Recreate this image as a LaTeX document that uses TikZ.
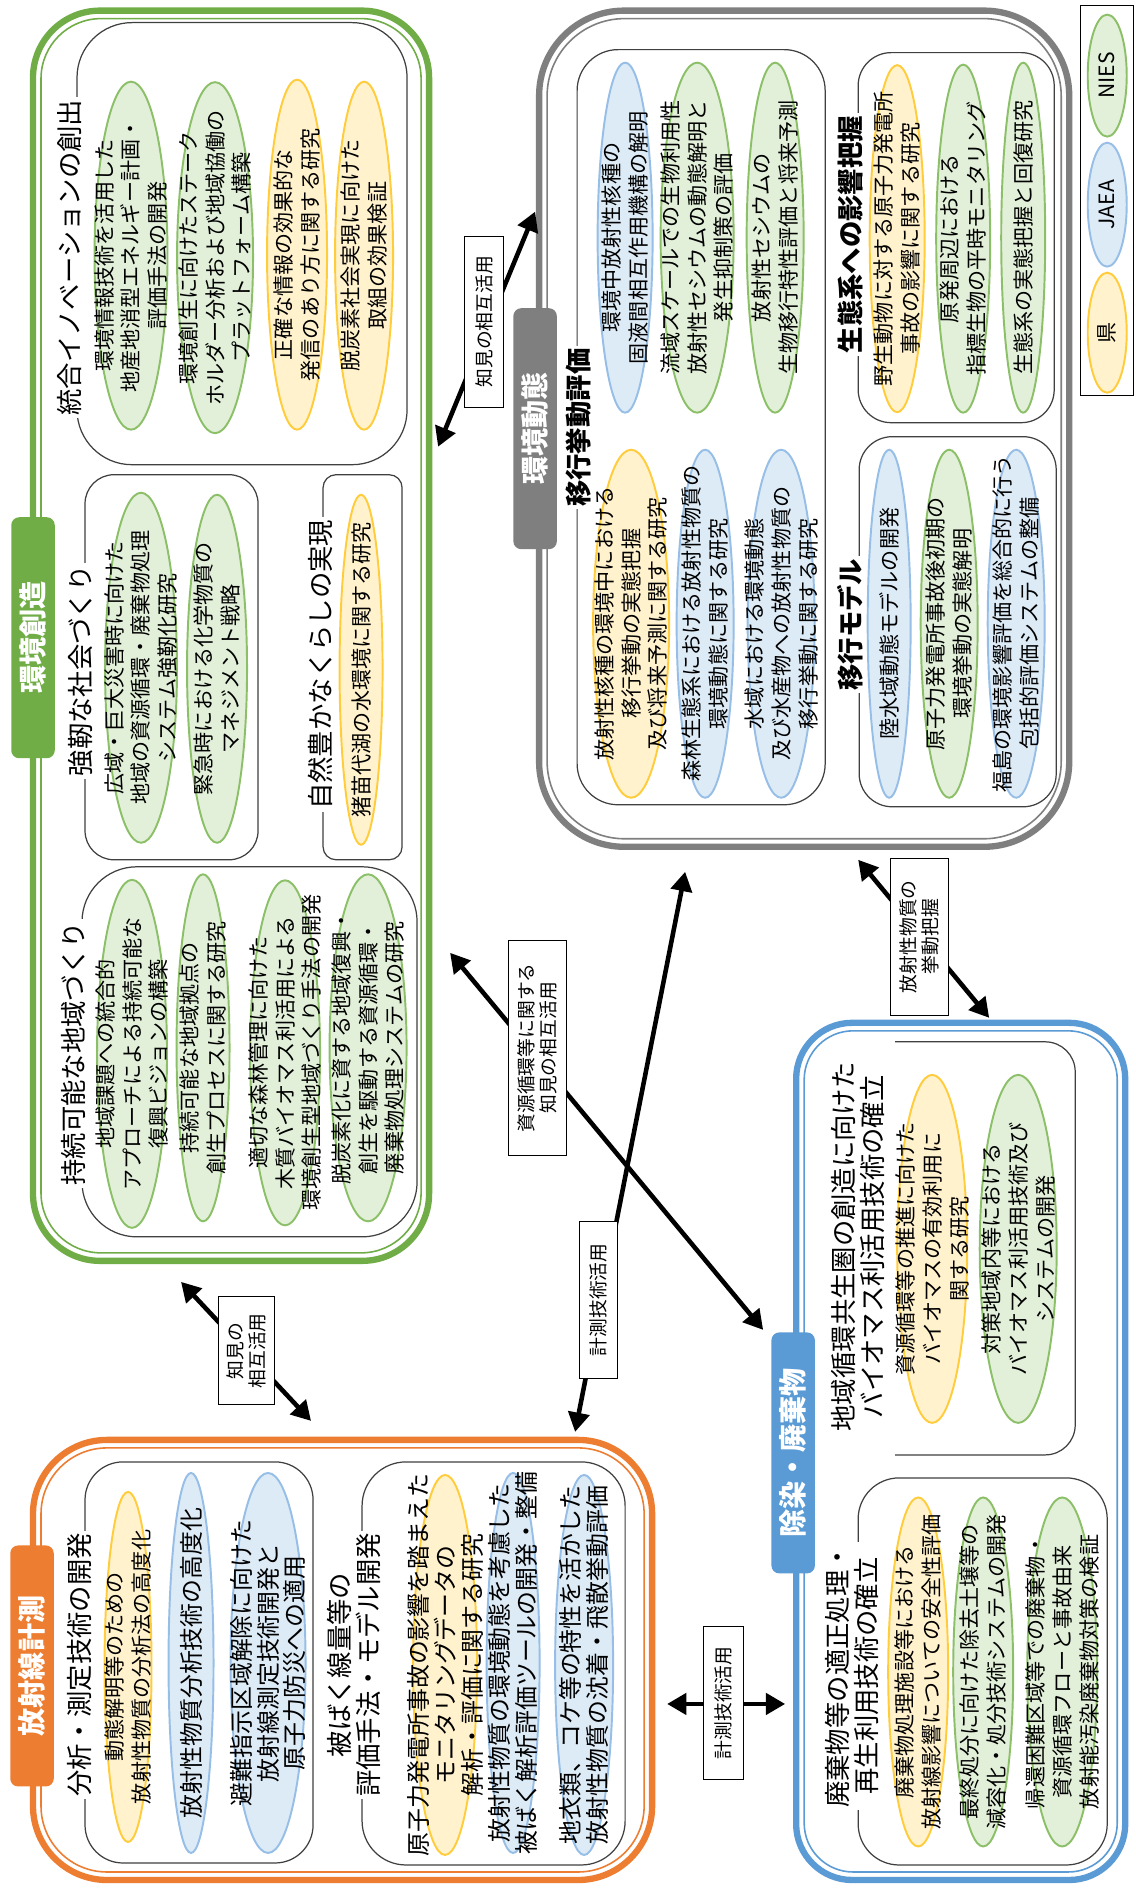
\documentclass[tikz,border=0pt]{standalone}
\usepackage{fontspec}
\setmainfont{Noto Sans CJK JP}
\usepackage{tikz}
\usetikzlibrary{shapes,arrows.meta,positioning,calc}
\definecolor{envgreen}{RGB}{112,173,71}
\definecolor{envgray}{RGB}{127,127,127}
\definecolor{decblue}{RGB}{91,155,213}
\definecolor{radorange}{RGB}{237,125,49}
\definecolor{niesfill}{RGB}{226,240,217}
\definecolor{niesline}{RGB}{140,192,104}
\definecolor{jaeafill}{RGB}{221,235,247}
\definecolor{jaealine}{RGB}{150,190,230}
\definecolor{preffill}{RGB}{255,242,204}
\definecolor{prefline}{RGB}{255,204,60}

\begin{document}
\begin{tikzpicture}[
    font=\fontsize{12}{15.3}\selectfont,
    outerline/.style={line width=3.6pt},
    innerline/.style={line width=0.9pt},
    subbox/.style={draw=black!75, line width=0.7pt},
    subtitle/.style={fill=white, inner sep=1.5pt, align=center, font=\fontsize{15}{16.5}\selectfont},
    subtitlebf/.style={subtitle, font=\fontsize{15}{16.5}\selectfont\bfseries},
    tag/.style={rectangle, rounded corners=4.5pt, text=white, minimum width=4.82cm, minimum height=0.87cm, font=\fontsize{16}{18}\selectfont\bfseries},
    ell/.style={ellipse, line width=1.1pt, inner sep=0pt},
    nies/.style={ell, draw=niesline, fill=niesfill},
    jaea/.style={ell, draw=jaealine, fill=jaeafill},
    pref/.style={ell, draw=prefline, fill=preffill},
    etxt/.style={align=center, inner sep=0pt},
    etxtbig/.style={etxt, font=\fontsize{13.6}{15.3}\selectfont},
    linkbox/.style={draw, fill=white, line width=0.6pt, align=center, inner sep=1pt, font=\fontsize{10.7}{12.5}\selectfont},
    link/.style={{Triangle[length=11pt,width=12pt]}-{Triangle[length=11pt,width=12pt]}, line width=2.6pt}
]
\fill[white] (0,0) rectangle (22.72,37.8);
\useasboundingbox (0,0) rectangle (22.72,37.8);

\begin{scope}[rotate=90, transform shape, x=0.02cm, y=0.02cm]

% 1. Environment creation
\draw[outerline, draw=envgreen, rounded corners=1.34cm] (629,-33) rectangle (1879,-429);
\draw[innerline, draw=envgreen, rounded corners=1.2cm] (637,-41) rectangle (1871,-421);

\draw[subbox, rounded corners=1.1cm] (1425,-77) rectangle (1867,-407);
\node[subtitle] (innoT) at (1632,-70) {統合イノベーションの創出};
\node[nies, minimum width=6.96cm, minimum height=1.46cm] (inno1) at (1634,-131) {};
\node[etxt] (inno1t) at (inno1) {環境情報技術を活用した\\地産地消型エネルギー計画・\\評価手法の開発};
\node[nies, minimum width=7.02cm, minimum height=1.52cm] (inno2) at (1632,-215) {};
\node[etxt] (inno2t) at (inno2) {環境創生に向けたステーク\\ホルダー分析および地域協働の\\プラットフォーム構築};
\node[pref, minimum width=7cm, minimum height=1.2cm] (inno3) at (1635,-297) {};
\node[etxt] (inno3t) at (inno3) {正確な情報の効果的な\\発信のあり方に関する研究};
\node[pref, minimum width=6.96cm, minimum height=1.16cm] (inno4) at (1634,-364) {};
\node[etxt] (inno4t) at (inno4) {脱炭素社会実現に向けた\\取組の効果検証};

\draw[subbox, rounded corners=0.58cm] (1030,-85) rectangle (1415,-258);
\node[subtitle] (resT) at (1219,-81) {強靭な社会づくり};
\node[nies, minimum width=7cm, minimum height=1.44cm] (res1) at (1222,-141) {};
\node[etxt] (res1t) at (res1) {広域・巨大災害時に向けた\\地域の資源循環・廃棄物処理\\システム強靭化研究};
\node[nies, minimum width=6.96cm, minimum height=1.2cm] (res2) at (1221,-217) {};
\node[etxt] (res2t) at (res2) {緊急時における化学物質の\\マネジメント戦略};

\draw[subbox, rounded corners=0.26cm] (1030,-323) rectangle (1415,-402);
\node[subtitle] (natT) at (1225,-320) {自然豊かなくらしの実現};
\node[pref, minimum width=7cm, minimum height=0.86cm] (nat1) at (1220,-361) {};
\node[etxt] (nat1t) at (nat1) {猪苗代湖の水環境に関する研究};

\draw[subbox, rounded corners=1.1cm] (653,-82) rectangle (1023,-417);
\node[subtitle] (susT) at (836,-73) {持続可能な地域づくり};
\node[nies, minimum width=6.96cm, minimum height=1.4cm] (sus1) at (836,-132) {};
\node[etxt] (sus1t) at (sus1) {地域課題への統合的\\アプローチによる持続可能な\\復興ビジョンの構築};
\node[nies, minimum width=6.94cm, minimum height=1.06cm] (sus2) at (842,-203) {};
\node[etxt] (sus2t) at (sus2) {持続可能な地域拠点の\\創生プロセスに関する研究};
\node[nies, minimum width=6.9cm, minimum height=1.4cm] (sus3) at (837,-285) {};
\node[etxt] (sus3t) at (sus3) {適切な森林管理に向けた\\木質バイオマス利活用による\\環境創生型地域づくり手法の開発};
\node[nies, minimum width=6.94cm, minimum height=1.54cm] (sus4) at (842,-368) {};
\node[etxt] (sus4t) at (sus4) {脱炭素化に資する地域復興・\\創生を駆動する資源循環・\\廃棄物処理システムの研究};

\node[tag, fill=envgreen] (envtag) at (1252,-33) {環境創造};

% 2. Environmental dynamics
\draw[outerline, draw=envgray, rounded corners=1.7cm] (1043,-539) rectangle (1879,-1069);
\draw[innerline, draw=envgray, rounded corners=1.55cm] (1051,-547) rectangle (1871,-1061);

\draw[subbox, rounded corners=0.82cm] (1085,-577) rectangle (1840,-825);
\node[subtitlebf] (migT) at (1462,-578) {移行挙動評価};
\node[jaea, minimum width=7cm, minimum height=1.1cm] (mig1) at (1652,-625) {};
\node[etxt] (mig1t) at (mig1) {環境中放射性核種の\\固液間相互作用機構の解明};
\node[nies, minimum width=7cm, minimum height=1.46cm] (mig2) at (1652,-697) {};
\node[etxt] (mig2t) at (mig2) {流域スケールでの生物利用性\\放射性セシウムの動態解明と\\発生抑制策の評価};
\node[nies, minimum width=7cm, minimum height=1.14cm] (mig3) at (1652,-775) {};
\node[etxt] (mig3t) at (mig3) {放射性セシウムの\\生物移行特性評価と将来予測};
\node[pref, minimum width=6.96cm, minimum height=1.52cm] (mig4) at (1266,-631) {};
\node[etxt] (mig4t) at (mig4) {放射性核種の環境中における\\移行挙動の実態把握\\及び将来予測に関する研究};
\node[jaea, minimum width=6.96cm, minimum height=1.14cm] (mig5) at (1266,-705) {};
\node[etxt] (mig5t) at (mig5) {森林生態系における放射性物質の\\環境動態に関する研究};
\node[jaea, minimum width=6.96cm, minimum height=1.34cm] (mig6) at (1266,-781) {};
\node[etxt] (mig6t) at (mig6) {水域における環境動態\\及び水産物への放射性物質の\\移行挙動に関する研究};

\draw[subbox, rounded corners=0.66cm] (1467,-858) rectangle (1837,-1054);
\node[subtitlebf] (ecoT) at (1655,-850) {生態系への影響把握};
\node[pref, minimum width=6.94cm, minimum height=1.1cm] (eco1) at (1651,-897) {};
\node[etxt] (eco1t) at (eco1) {野生動物に対する原子力発電所\\事故の影響に関する研究};
\node[nies, minimum width=6.96cm, minimum height=1.08cm] (eco2) at (1651,-963) {};
\node[etxt] (eco2t) at (eco2) {原発周辺における\\指標生物の平時モニタリング};
\node[nies, minimum width=7cm, minimum height=0.88cm] (eco3) at (1652,-1023) {};
\node[etxt] (eco3t) at (eco3) {生態系の実態把握と回復研究};

\draw[subbox, rounded corners=0.66cm] (1083,-859) rectangle (1453,-1056);
\node[subtitlebf] (modT) at (1265,-850) {移行モデル};
\node[jaea, minimum width=6.96cm, minimum height=0.86cm] (mod1) at (1266,-889) {};
\node[etxt] (mod1t) at (mod1) {陸水域動態モデルの開発};
\node[nies, minimum width=6.96cm, minimum height=1.14cm] (mod2) at (1266,-949) {};
\node[etxt] (mod2t) at (mod2) {原子力発電所事故後初期の\\環境挙動の実態解明};
\node[jaea, minimum width=6.96cm, minimum height=1.14cm] (mod3) at (1266,-1016) {};
\node[etxt] (mod3t) at (mod3) {福島の環境影響評価を総合的に行う\\包括的評価システムの整備};

\node[tag, fill=envgray] (dyntag) at (1461,-535) {環境動態};

% 3. Legend
\draw[line width=0.7pt] (1494,-1080) rectangle (1884,-1133);
\node[nies, minimum width=2.44cm, minimum height=0.78cm] (legN) at (1814,-1107) {};
\node[etxt] (legNt) at (legN) {NIES};
\node[jaea, minimum width=2.48cm, minimum height=0.78cm] (legJ) at (1685,-1107) {};
\node[etxt] (legJt) at (legJ) {JAEA};
\node[pref, minimum width=2.4cm, minimum height=0.78cm] (legP) at (1557,-1107) {};
\node[etxt] (legPt) at (legP) {県};

% 4. Decontamination / waste
\draw[outerline, draw=decblue, rounded corners=1.12cm] (10,-796) rectangle (867,-1125);
\draw[innerline, draw=decblue, rounded corners=0.98cm] (18,-804) rectangle (859,-1117);

\draw[subbox, rounded corners=0.6cm] (435,-895) -- (435,-1075) -- (848,-1075) -- (848,-895);
\node[subtitle] (bioT) at (643,-858) {地域循環共生圏の創造に向けた\\バイオマス利活用技術の確立};
\node[pref, minimum width=6.96cm, minimum height=1.4cm] (bio1) at (641,-932) {};
\node[etxt] (bio1t) at (bio1) {資源循環等の推進に向けた\\バイオマスの有効利用に\\関する研究};
\node[nies, minimum width=6.96cm, minimum height=1.54cm] (bio2) at (641,-1018) {};
\node[etxt] (bio2t) at (bio2) {対策地域内等における\\バイオマス利活用技術及び\\システムの開発};

\draw[subbox, rounded corners=0.82cm] (25,-858) rectangle (412,-1107);
\node[subtitle] (wstT) at (214,-852) {廃棄物等の適正処理・\\再生利用技術の確立};
\node[pref, minimum width=6.98cm, minimum height=1.2cm] (wst1) at (218,-918) {};
\node[etxt] (wst1t) at (wst1) {廃棄物処理施設等における\\放射線影響についての安全性評価};
\node[nies, minimum width=6.98cm, minimum height=1.2cm] (wst2) at (218,-983) {};
\node[etxt] (wst2t) at (wst2) {最終処分に向けた除去土壌等の\\減容化・処分技術システムの開発};
\node[nies, minimum width=6.98cm, minimum height=1.4cm] (wst3) at (218,-1062) {};
\node[etxt] (wst3t) at (wst3) {帰還困難区域等での廃棄物・\\資源循環フローと事故由来\\放射能汚染廃棄物対策の検証};

\node[tag, fill=decblue] (dectag) at (437,-793) {除染・廃棄物};

% 5. Radiation measurement
\draw[outerline, draw=radorange, rounded corners=1.48cm] (10,-33) rectangle (450,-652);
\draw[innerline, draw=radorange, rounded corners=1.32cm] (18,-41) rectangle (442,-644);

\draw[subbox, rounded corners=0.76cm] (27,-85) rectangle (428,-313);
\node[subtitle] (anaT) at (225,-80) {分析・測定技術の開発};
\node[pref, minimum width=7cm, minimum height=0.94cm] (ana1) at (223,-128) {};
\node[etxt] (ana1t) at (ana1) {動態解明等のための\\放射性物質の分析法の高度化};
\node[jaea, minimum width=7.6cm, minimum height=0.9cm] (ana2) at (227,-191) {};
\node[etxtbig] (ana2t) at (ana2) {放射性物質分析技術の高度化};
\node[jaea, minimum width=7.6cm, minimum height=1.5cm] (ana3) at (227,-268) {};
\node[etxtbig] (ana3t) at (ana3) {避難指示区域解除に向けた\\放射線測定技術開発と\\原子力防災への適用};

\draw[subbox, rounded corners=0.88cm] (25,-362) rectangle (428,-625);
\node[subtitle] (dosT) at (225,-354) {被ばく線量等の\\評価手法・モデル開発};
\node[pref, minimum width=7.6cm, minimum height=1.28cm] (dos1) at (225,-445) {};
\node[etxtbig] (dos1t) at (dos1) {原子力発電所事故の影響を踏まえた\\モニタリングデータの\\解析・評価に関する研究};
\node[jaea, minimum width=7.6cm, minimum height=1.06cm] (dos2) at (227,-513) {};
\node[etxtbig] (dos2t) at (dos2) {放射性物質の環境動態を考慮した\\被ばく解析評価ツールの開発・整備};
\node[jaea, minimum width=7.6cm, minimum height=1.16cm] (dos3) at (225,-584) {};
\node[etxtbig] (dos3t) at (dos3) {地衣類、コケ等の特性を活かした\\放射性物質の沈着・飛散挙動評価};

\node[tag, fill=radorange] (radtag) at (224,-32) {放射線計測};

% 6. Links
\coordinate (a1s) at (937,-450);  \coordinate (a1e) at (560,-763);
\coordinate (a2s) at (1018,-685); \coordinate (a2e) at (458,-575);
\coordinate (a3s) at (1030,-858); \coordinate (a3e) at (872,-989);
\coordinate (a4s) at (1678,-535); \coordinate (a4e) at (1443,-438);
\coordinate (a5s) at (608,-181);  \coordinate (a5e) at (469,-311);
\coordinate (a6s) at (186,-667);  \coordinate (a6e) at (186,-785);
\draw[link] (a1s) -- (a1e);
\draw[link] (a2s) -- (a2e);
\draw[link] (a3s) -- (a3e);
\draw[link] (a4s) -- (a4e);
\draw[link] (a5s) -- (a5e);
\draw[link] (a6s) -- (a6e);
\node[linkbox, minimum width=4.3cm, minimum height=1.16cm] (l1) at (842,-537) {資源循環等に関する\\知見の相互活用};
\node[linkbox, minimum width=3.14cm, minimum height=0.76cm] (l2) at (590,-598) {計測技術活用};
\node[linkbox, minimum width=3.14cm, minimum height=1.16cm] (l3) at (953,-919) {放射性物質の\\挙動把握};
\node[linkbox, minimum width=3.42cm, minimum height=0.78cm] (l4) at (1568,-484) {知見の相互活用};
\node[linkbox, minimum width=2.16cm, minimum height=1.12cm] (l5) at (539,-246) {知見の\\相互活用};
\node[linkbox, minimum width=3.06cm, minimum height=0.8cm] (l6) at (187,-723) {計測技術活用};

\end{scope}
\end{tikzpicture}
\end{document}
